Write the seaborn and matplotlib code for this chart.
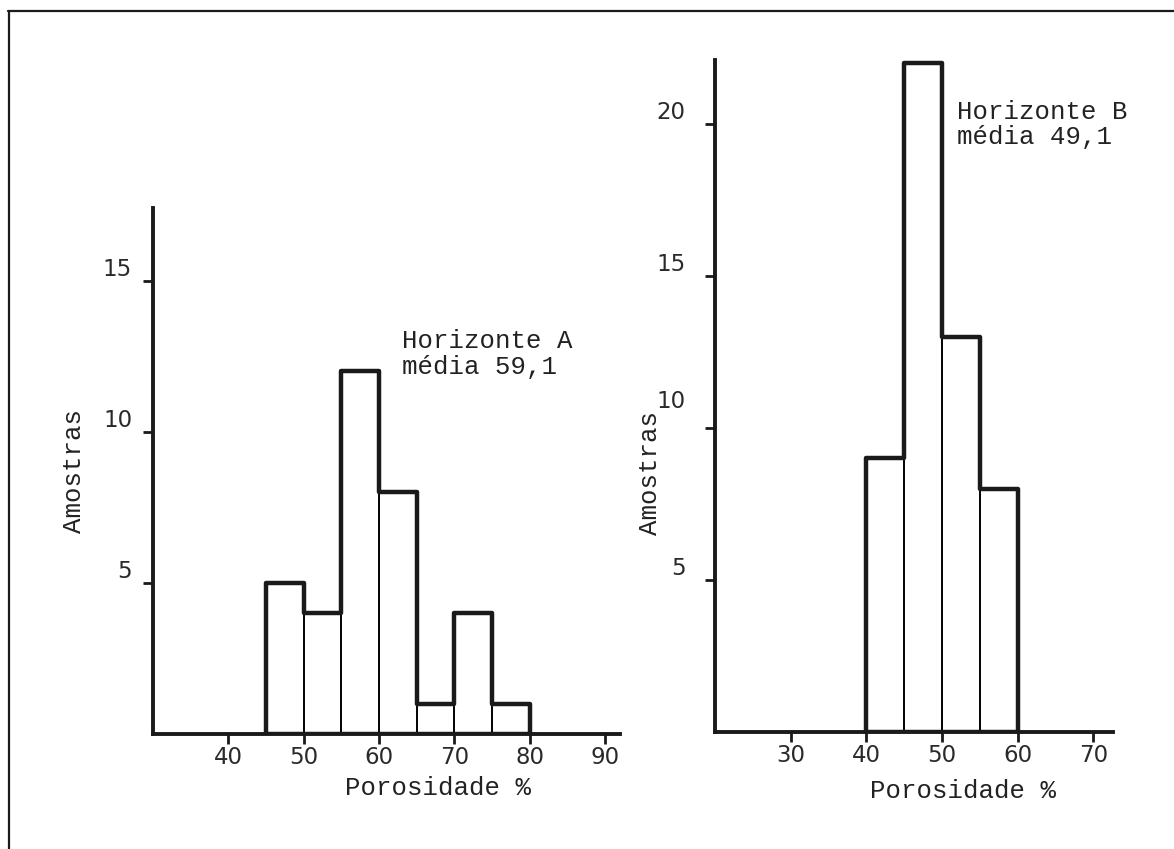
import matplotlib
matplotlib.use("Agg")
import matplotlib.pyplot as plt
import seaborn as sns
import pandas as pd
from matplotlib.lines import Line2D

# ---- data ----
# Horizonte A: class centres (porosity %, 5-unit classes) and sample counts
poros_a = [47.5, 52.5, 57.5, 62.5, 67.5, 72.5, 77.5]
amostras_a = [5, 4, 12, 8, 1, 4, 1]
xticks_a = [40, 50, 60, 70, 80, 90]
yticks_a = [5, 10, 15]
ylabels_a = ["5", "10", "15"]
texto_a = "Horizonte A\nmédia 59,1"

# Horizonte B
poros_b = [42.5, 47.5, 52.5, 57.5]
amostras_b = [9, 22, 13, 8]
xticks_b = [30, 40, 50, 60, 70]
yticks_b = [5, 10, 15, 20]
ylabels_b = ["5", "10\n", "15", "20"]  # "10" sits higher in the original
texto_b = "Horizonte B\nmédia 49,1"

xlabel = "Porosidade %"
ylabel = "Amostras"

sns.set_theme(style="white")
plt.rcParams["font.family"] = ["DejaVu Sans"]
MONO = "Liberation Mono"

W, H = 1174, 849
fig = plt.figure(figsize=(W / 100, H / 100), dpi=100)
fig.patch.set_facecolor("white")


def px_axes(x0, x1, y0, y1):
    return fig.add_axes([x0 / W, 1 - y1 / H, (x1 - x0) / W, (y1 - y0) / H])


def painel(ax, centros, contagens, binrange, xlim, ylim, xticks, yticks,
           ylabs, texto, tpos, ypad, ylab_xy, xlab_xy):
    df = pd.DataFrame({"p": centros, "n": contagens})
    sns.histplot(data=df, x="p", weights="n", binwidth=5, binrange=binrange,
                 element="bars", fill=False, color="black", linewidth=1.2,
                 ax=ax)
    sns.histplot(data=df, x="p", weights="n", binwidth=5, binrange=binrange,
                 element="step", fill=True, color="black", facecolor="none",
                 edgecolor="#1a1a1a", linewidth=3.2, ax=ax)
    ax.set_xlim(*xlim)
    ax.set_ylim(*ylim)
    ax.set_facecolor("white")
    sns.despine(ax=ax)
    for s in ("left", "bottom"):
        ax.spines[s].set_linewidth(2.8)
        ax.spines[s].set_color("#1a1a1a")
    ax.set_xticks(xticks, labels=[str(t) for t in xticks])
    ax.set_yticks(yticks, labels=ylabs, va="bottom", linespacing=0.55)
    ax.tick_params(axis="both", direction="out", length=7, width=2,
                   bottom=True, left=True,
                   labelsize=16.5, colors="#1a1a1a", labelcolor="#2a2a2a")
    ax.tick_params(axis="x", pad=2)
    ax.tick_params(axis="y", pad=ypad)
    ax.grid(False)
    ax.set_xlabel(xlabel, family=MONO, fontsize=18.5, color="#222222")
    ax.set_ylabel(ylabel, family=MONO, fontsize=18.5, color="#222222")
    ax.yaxis.set_label_coords(*ylab_xy)
    ax.xaxis.set_label_coords(*xlab_xy)
    ax.text(tpos[0], tpos[1], texto, family=MONO, fontsize=18.5,
            color="#222222", ha="left", va="top", linespacing=1.1)


ax_a = px_axes(153, 620, 208, 734)
painel(ax_a, poros_a, amostras_a, (45, 80), (30, 92), (0, 17.4),
       xticks_a, yticks_a, ylabels_a, texto_a, (63.1, 13.4), 8,
       (-0.143, 0.5), (0.61, -0.08))

ax_b = px_axes(715, 1113, 60, 732)
painel(ax_b, poros_b, amostras_b, (40, 60), (20, 72.6), (0, 22.1),
       xticks_b, yticks_b, ylabels_b, texto_b, (52.0, 20.8), 14,
       (-0.133, 0.385), (0.623, -0.07))

# page frame lines of the scanned sheet
fig.add_artist(Line2D([8 / W, 1.0], [1 - 11 / H, 1 - 11 / H],
                      transform=fig.transFigure, color="#1a1a1a", lw=1.6))
fig.add_artist(Line2D([9 / W, 9 / W], [1 - 11 / H, 0.0],
                      transform=fig.transFigure, color="#1a1a1a", lw=1.6))

fig.savefig("out.png", dpi=100, facecolor="white")
